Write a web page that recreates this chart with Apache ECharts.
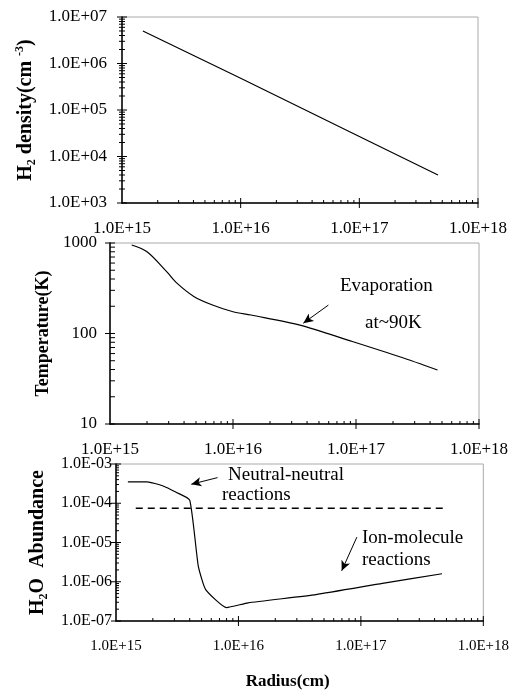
<!DOCTYPE html>
<html><head><meta charset="utf-8">
<script src="https://cdn.jsdelivr.net/npm/echarts@6/dist/echarts.min.js"></script>
<style>html,body{margin:0;padding:0;background:#fff}#c{width:512px;height:691px}</style>
</head><body><div id="c"></div>
<script>
// ---- data ----
var xTickLabels = ['1.0E+15', '1.0E+16', '1.0E+17', '1.0E+18'];
var densTickLabels = ['1.0E+03', '1.0E+04', '1.0E+05', '1.0E+06', '1.0E+07'];
var tempTickLabels = ['10', '100', '1000'];
var abunTickLabels = ['1.0E-07', '1.0E-06', '1.0E-05', '1.0E-04', '1.0E-03'];

var densR = [1.5e15, 1.0e16, 1.0e17, 4.6e17];
var densN = [5.0e6, 4.8e5, 2.7e4, 4.0e3];

var tempR = [1.5e15, 2.0e15, 2.9e15, 3.5e15, 4.8e15, 6.9e15, 1.0e16, 1.4e16, 3.5e16, 9.0e16, 2.3e17, 4.6e17];
var tempT = [950, 800, 480, 360, 257, 205, 174, 160, 124, 83, 55, 39.5];

var abunR = [1.25e15, 1.8e15, 2.4e15, 3.1e15, 4.0e15, 4.7e15, 5.4e15, 8.0e15, 1.2e16, 4.3e16, 1.5e17, 4.6e17];
var abunX = [3.5e-4, 3.5e-4, 2.8e-4, 1.9e-4, 1.2e-4, 2.5e-6, 6.3e-7, 2.2e-7, 2.9e-7, 4.7e-7, 9.1e-7, 1.6e-6];

var critR = [1.45e15, 5.1e17];
var critX = [7.5e-5, 7.5e-5];

// annotation arrows (data coords: [x0,y0] -> [x1,y1])
var evapArrow = [[5.96e16, 206], [3.73e16, 130]];
var neutArrow = [[6.75e15, 4.5e-4], [4.12e15, 3.05e-4]];
var ionArrow  = [[9.27e16, 1.37e-5], [6.97e16, 1.9e-6]];

// ---- helpers ----
function pairs(a, b) { return a.map(function (v, i) { return [v, b[i]]; }); }
function labelFn(labels, minExp) {
  return function (v) { var i = Math.round(Math.log10(v)) - minExp; return labels[i] || ''; };
}
function minorVals(e0, e1) {
  var out = [];
  for (var e = e0; e < e1; e++) for (var m = 2; m <= 9; m++) out.push(m * Math.pow(10, e));
  return out;
}
function majorVals(e0, e1) { var o = []; for (var e = e0; e <= e1; e++) o.push(Math.pow(10, e)); return o; }

var FONT = '"Liberation Serif", "Times New Roman", serif';
var grids = [
  { left: 122, top: 17, width: 356, height: 186 },
  { left: 110, top: 243, width: 369, height: 181 },
  { left: 116, top: 464, width: 369, height: 163 }
];
var yRanges = [[1e3, 1e7], [10, 1000], [1e-7, 1e-3]];

function tickSeries(gi, axis, vals, inLen, outLen) {
  var yr = yRanges[gi];
  var data = vals.map(function (v) { return axis === 'x' ? [v, yr[0]] : [1e15, v]; });
  return {
    type: 'custom', xAxisIndex: gi, yAxisIndex: gi, silent: true, clip: false, z: 5,
    data: data,
    renderItem: function (params, api) {
      var p = api.coord([api.value(0), api.value(1)]);
      var shape = axis === 'x'
        ? { x1: p[0], y1: p[1] + outLen, x2: p[0], y2: p[1] - inLen }
        : { x1: p[0] - outLen, y1: p[1], x2: p[0] + inLen, y2: p[1] };
      return { type: 'line', shape: shape, style: { stroke: '#000', lineWidth: 1 } };
    }
  };
}

var xAxes = grids.map(function (g, i) {
  return {
    type: 'log', logBase: 10, gridIndex: i, min: 1e15, max: 1e18,
    axisLine: { lineStyle: { color: '#000', width: 1.5 } },
    axisTick: { show: false },
    splitLine: { show: false },
    axisLabel: {
      formatter: labelFn(xTickLabels, 15), color: '#000', fontFamily: FONT,
      fontSize: i === 2 ? 15 : 17, margin: i === 2 ? 18 : 17, showMinLabel: true, showMaxLabel: true
    },
    name: i === 2 ? 'Radius(cm)' : '', nameLocation: 'middle', nameGap: 52,
    nameTextStyle: { fontFamily: FONT, fontWeight: 'bold', fontSize: 17, color: '#000', padding: [0, 24, 0, 0] }
  };
});

var subStyle = { fontFamily: FONT, fontWeight: 'bold', fontSize: 12, color: '#000', verticalAlign: 'bottom', lineHeight: 8 };
var supStyle = { fontFamily: FONT, fontWeight: 'bold', fontSize: 12, color: '#000', verticalAlign: 'top', lineHeight: 10 };
var bStyle = { fontFamily: FONT, fontWeight: 'bold', fontSize: 20, color: '#000', lineHeight: 24 };
var bStyle2 = { fontFamily: FONT, fontWeight: 'bold', fontSize: 18, color: '#000', lineHeight: 22 };

var yAxes = [
  {
    type: 'log', gridIndex: 0, min: 1e3, max: 1e7,
    axisLabel: { formatter: labelFn(densTickLabels, 3), margin: 15, fontSize: 17 },
    name: '{b|H}{sub|2}{b| density(cm }{sup|-3}{b|)}', nameGap: 82
  },
  {
    type: 'log', gridIndex: 1, min: 10, max: 1000,
    axisLabel: { formatter: labelFn(tempTickLabels, 1), margin: 13, fontSize: 17 },
    name: '{c|Temperature(K)}', nameGap: 56
  },
  {
    type: 'log', gridIndex: 2, min: 1e-7, max: 1e-3,
    axisLabel: { formatter: labelFn(abunTickLabels, -7), margin: 4, fontSize: 16 },
    name: '{b|H}{sub|2}{b|O  Abundance}', nameGap: 62
  }
].map(function (a) {
  a.logBase = 10;
  a.axisLine = { lineStyle: { color: '#000', width: 1.5 } };
  a.axisTick = { show: false };
  a.splitLine = { show: false };
  a.axisLabel.color = '#000';
  a.axisLabel.fontFamily = FONT;
  a.axisLabel.showMinLabel = true;
  a.axisLabel.showMaxLabel = true;
  a.nameLocation = 'middle';
  a.nameRotate = 90;
  a.nameTextStyle = { rich: { b: bStyle, c: bStyle2, sub: subStyle, sup: supStyle } };
  return a;
});

var arrowStyle = { silent: true, symbol: ['none', 'arrow'], symbolSize: [7, 10],
  lineStyle: { color: '#000', width: 1, type: 'solid' }, label: { show: false } };

var lineBase = { type: 'line', showSymbol: false, symbol: 'none', lineStyle: { color: '#000', width: 1.2 }, silent: true, z: 3 };

var series = [
  Object.assign({}, lineBase, { xAxisIndex: 0, yAxisIndex: 0, data: pairs(densR, densN) }),
  Object.assign({}, lineBase, { xAxisIndex: 1, yAxisIndex: 1, data: pairs(tempR, tempT), smooth: 0.3,
    markLine: Object.assign({ data: [[{ coord: evapArrow[0] }, { coord: evapArrow[1] }]] }, arrowStyle) }),
  Object.assign({}, lineBase, { xAxisIndex: 2, yAxisIndex: 2, data: pairs(abunR, abunX), smooth: 0.15,
    markLine: Object.assign({ data: [[{ coord: neutArrow[0] }, { coord: neutArrow[1] }], [{ coord: ionArrow[0] }, { coord: ionArrow[1] }]] }, arrowStyle) }),
  Object.assign({}, lineBase, { xAxisIndex: 2, yAxisIndex: 2, data: pairs(critR, critX), lineStyle: { color: '#000', width: 1.5, type: [7, 5] } })
];

series.push(tickSeries(0, 'x', minorVals(15, 18), 3, 0));
series.push(tickSeries(0, 'x', majorVals(16, 18), 5, 5));
series.push(tickSeries(0, 'y', minorVals(3, 7), 3, 3));
series.push(tickSeries(0, 'y', majorVals(3, 7), 5, 5));
series.push(tickSeries(1, 'x', minorVals(15, 18), 3, 0));
series.push(tickSeries(1, 'x', majorVals(16, 18), 5, 5));
series.push(tickSeries(1, 'y', minorVals(1, 3), 5, 0));
series.push(tickSeries(1, 'y', majorVals(1, 3), 5, 5));
series.push(tickSeries(2, 'x', minorVals(15, 18), 3, 0));
series.push(tickSeries(2, 'x', majorVals(16, 18), 5, 5));
series.push(tickSeries(2, 'y', minorVals(-7, -3), 3, 0));
series.push(tickSeries(2, 'y', majorVals(-7, -3), 5, 5));

var txt = function (t, x, y) {
  return { type: 'text', left: x, top: y, style: { text: t, font: '19px ' + FONT, fill: '#000' } };
};

var chart = echarts.init(document.getElementById('c'), null, { renderer: 'canvas' });
chart.setOption({
  animation: false,
  backgroundColor: '#fff',
  grid: grids.map(function (g) { return Object.assign({ show: true, borderColor: '#aaa', borderWidth: 1, containLabel: false }, g); }),
  xAxis: xAxes,
  yAxis: yAxes,
  series: series,
  graphic: [
    txt('Evaporation', 340, 277),
    txt('at~90K', 365, 314),
    txt('Neutral-neutral', 228, 466),
    txt('reactions', 222, 486),
    txt('Ion-molecule', 362, 529),
    txt('reactions', 362, 551)
  ]
});
</script></body></html>
